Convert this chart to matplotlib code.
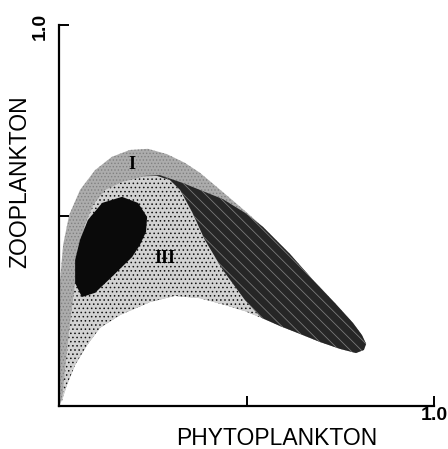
import matplotlib
matplotlib.use('Agg')
import matplotlib.pyplot as plt
from matplotlib.patches import Polygon

plt.rcParams['font.family'] = ['Liberation Sans', 'DejaVu Sans']
plt.rcParams['hatch.linewidth'] = 0.6

# region boundaries (phytoplankton, zooplankton)
region1_x = [0, 0, 0, 0.003, 0.011, 0.027, 0.056, 0.096, 0.141, 0.189, 0.237, 0.288,
             0.336, 0.376, 0.440, 0.496, 0.544, 0.616, 0.677, 0.736, 0.784, 0.808,
             0.819, 0.813, 0.792, 0.749, 0.696, 0.643, 0.589, 0.541, 0.496, 0.443,
             0.376, 0.309, 0.243, 0.163, 0.109, 0.075, 0.043, 0.021, 0.008]
region1_y = [0, 0.147, 0.252, 0.331, 0.423, 0.501, 0.567, 0.619, 0.654, 0.672, 0.675, 0.661,
             0.638, 0.612, 0.559, 0.512, 0.470, 0.399, 0.331, 0.270, 0.218, 0.186,
             0.163, 0.147, 0.139, 0.150, 0.168, 0.189, 0.210, 0.231, 0.249, 0.265,
             0.283, 0.289, 0.273, 0.239, 0.205, 0.160, 0.108, 0.055, 0.016]

region3_x = [0.008, 0.016, 0.027, 0.037, 0.051, 0.069, 0.091, 0.123, 0.168, 0.221, 0.261,
             0.296, 0.323, 0.355, 0.389, 0.437, 0.496, 0.541, 0.496, 0.443, 0.376,
             0.309, 0.243, 0.163, 0.109, 0.075, 0.043, 0.021]
region3_y = [0.013, 0.094, 0.199, 0.278, 0.383, 0.475, 0.528, 0.567, 0.588, 0.601, 0.604,
             0.593, 0.567, 0.509, 0.436, 0.357, 0.278, 0.231, 0.249, 0.265, 0.283,
             0.289, 0.273, 0.239, 0.205, 0.160, 0.108, 0.055]

region2_x = [0.224, 0.269, 0.331, 0.376, 0.437, 0.496, 0.544, 0.616, 0.677, 0.736, 0.784,
             0.808, 0.819, 0.813, 0.792, 0.749, 0.696, 0.643, 0.589, 0.541, 0.496,
             0.437, 0.389, 0.355, 0.323, 0.296, 0.261]
region2_y = [0.604, 0.606, 0.585, 0.567, 0.543, 0.507, 0.470, 0.399, 0.331, 0.270, 0.218,
             0.186, 0.163, 0.147, 0.139, 0.150, 0.168, 0.189, 0.210, 0.231, 0.278,
             0.357, 0.436, 0.509, 0.567, 0.593, 0.604]

region4_x = [0.115, 0.168, 0.211, 0.235, 0.232, 0.216, 0.195, 0.141, 0.096, 0.061,
             0.043, 0.043, 0.056, 0.077]
region4_y = [0.533, 0.549, 0.533, 0.496, 0.457, 0.423, 0.391, 0.339, 0.297, 0.286,
             0.323, 0.383, 0.436, 0.488]

fig = plt.figure(figsize=(4.48, 4.49), dpi=100)
ax = fig.add_axes([59 / 448, 43 / 449, 375 / 448, 381 / 449])
ax.set_xlim(0, 1)
ax.set_ylim(0, 1)

ax.add_patch(Polygon(list(zip(region1_x, region1_y)), closed=True,
                     facecolor='#acacac', edgecolor='#808080', hatch='.....', lw=0))
ax.add_patch(Polygon(list(zip(region3_x, region3_y)), closed=True,
                     facecolor='#d2d2d2', edgecolor='#111111', hatch='....', lw=0))
ax.add_patch(Polygon(list(zip(region2_x, region2_y)), closed=True,
                     facecolor='#262626', edgecolor='#7a7a7a', hatch='\\\\\\', lw=0))
ax.add_patch(Polygon(list(zip(region4_x, region4_y)), closed=True,
                     facecolor='#0a0a0a', edgecolor='#0a0a0a', lw=0))

ax.text(0.195, 0.633, 'I', ha='center', va='center', fontsize=13,
        fontweight='bold', family='Liberation Serif')
ax.text(0.283, 0.388, 'III', ha='center', va='center', fontsize=13,
        fontweight='bold', family='Liberation Serif')

for s in ['top', 'right']:
    ax.spines[s].set_visible(False)
for s in ['left', 'bottom']:
    ax.spines[s].set_linewidth(1.6)

ax.set_xticks([0.5, 1.0])
ax.set_yticks([0.5, 1.0])
ax.tick_params(direction='in', length=7, width=1.4, labelbottom=False, labelleft=False)

ax.text(1.0, -0.026, '1.0', ha='center', va='center', fontsize=14, fontweight='bold')
ax.text(-0.05, 0.995, '1.0', ha='center', va='center', fontsize=14,
        fontweight='bold', rotation=90)
ax.text(0.58, -0.055, 'PHYTOPLANKTON', ha='center', va='top', fontsize=16.5)
ax.text(-0.104, 0.59, 'ZOOPLANKTON', ha='center', va='center', fontsize=16.5, rotation=90)

fig.savefig('out.png', dpi=100)
